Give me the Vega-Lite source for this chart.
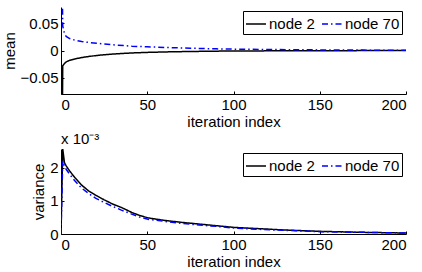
{
  "$schema": "https://vega.github.io/schema/vega-lite/v6.json",
  "background": "white",
  "padding": {"top": 7, "left": 2, "right": 10, "bottom": 0},
  "spacing": 3,
  "config": {
    "view": {"stroke": null},
    "font": "Liberation Sans",
    "axis": {
      "grid": false,
      "domainColor": "#000",
      "domainWidth": 1,
      "tickColor": "#000",
      "tickSize": -3,
      "labelFont": "Liberation Sans",
      "labelFontSize": 15,
      "labelColor": "#000",
      "titleFont": "Liberation Sans",
      "titleFontSize": 15,
      "titleFontWeight": "normal",
      "titleColor": "#000"
    },
    "axisX": {"labelPadding": 6, "titlePadding": 2},
    "axisY": {"labelPadding": 6, "titlePadding": 3},
    "legend": {
      "orient": "top-right",
      "offset": 4,
      "direction": "horizontal",
      "strokeColor": "#000",
      "fillColor": "white",
      "padding": 2,
      "symbolType": "stroke",
      "symbolSize": 400,
      "symbolStrokeWidth": 1.5,
      "labelFont": "Liberation Sans",
      "labelFontSize": 15,
      "labelColor": "#000",
      "labelOffset": 2,
      "columnPadding": 4,
      "title": null
    },
    "title": {"anchor": "start", "frame": "group", "fontSize": 15, "fontWeight": "normal", "font": "Liberation Sans", "color": "#000", "offset": 2}
  },
  "datasets": {
    "mean": [
      {"iter": 0, "node": "node 2", "value": -0.5},
      {"iter": 1, "node": "node 2", "value": -0.028},
      {"iter": 2, "node": "node 2", "value": -0.024},
      {"iter": 3, "node": "node 2", "value": -0.021},
      {"iter": 5, "node": "node 2", "value": -0.018},
      {"iter": 8, "node": "node 2", "value": -0.0155},
      {"iter": 12, "node": "node 2", "value": -0.013},
      {"iter": 16, "node": "node 2", "value": -0.011},
      {"iter": 22, "node": "node 2", "value": -0.0087},
      {"iter": 30, "node": "node 2", "value": -0.0065},
      {"iter": 41, "node": "node 2", "value": -0.0045},
      {"iter": 50, "node": "node 2", "value": -0.0035},
      {"iter": 61, "node": "node 2", "value": -0.0026},
      {"iter": 75, "node": "node 2", "value": -0.0018},
      {"iter": 90, "node": "node 2", "value": -0.0012},
      {"iter": 100, "node": "node 2", "value": -0.0009},
      {"iter": 125, "node": "node 2", "value": -0.0006},
      {"iter": 150, "node": "node 2", "value": -0.0004},
      {"iter": 175, "node": "node 2", "value": -0.0002},
      {"iter": 200, "node": "node 2", "value": -0.0001},
      {"iter": 0, "node": "node 70", "value": 0.3},
      {"iter": 1, "node": "node 70", "value": 0.045},
      {"iter": 2, "node": "node 70", "value": 0.031},
      {"iter": 3, "node": "node 70", "value": 0.026},
      {"iter": 5, "node": "node 70", "value": 0.022},
      {"iter": 8, "node": "node 70", "value": 0.019},
      {"iter": 12, "node": "node 70", "value": 0.0165},
      {"iter": 16, "node": "node 70", "value": 0.0148},
      {"iter": 22, "node": "node 70", "value": 0.013},
      {"iter": 30, "node": "node 70", "value": 0.0105},
      {"iter": 41, "node": "node 70", "value": 0.008},
      {"iter": 50, "node": "node 70", "value": 0.0068},
      {"iter": 61, "node": "node 70", "value": 0.0056},
      {"iter": 75, "node": "node 70", "value": 0.0042},
      {"iter": 90, "node": "node 70", "value": 0.003},
      {"iter": 100, "node": "node 70", "value": 0.0025},
      {"iter": 125, "node": "node 70", "value": 0.0017},
      {"iter": 150, "node": "node 70", "value": 0.0011},
      {"iter": 175, "node": "node 70", "value": 0.0007},
      {"iter": 200, "node": "node 70", "value": 0.0005}
    ],
    "variance": [
      {"iter": 0, "node": "node 2", "value": 0},
      {"iter": 1, "node": "node 2", "value": 0.00256},
      {"iter": 2, "node": "node 2", "value": 0.00215},
      {"iter": 3, "node": "node 2", "value": 0.00205},
      {"iter": 5, "node": "node 2", "value": 0.0019},
      {"iter": 8, "node": "node 2", "value": 0.0017},
      {"iter": 12, "node": "node 2", "value": 0.00147},
      {"iter": 16, "node": "node 2", "value": 0.0013},
      {"iter": 20, "node": "node 2", "value": 0.00117},
      {"iter": 25, "node": "node 2", "value": 0.00103},
      {"iter": 30, "node": "node 2", "value": 0.0009},
      {"iter": 35, "node": "node 2", "value": 0.0008},
      {"iter": 41, "node": "node 2", "value": 0.00065},
      {"iter": 46, "node": "node 2", "value": 0.00055},
      {"iter": 51, "node": "node 2", "value": 0.00048},
      {"iter": 60, "node": "node 2", "value": 0.00041},
      {"iter": 70, "node": "node 2", "value": 0.00035},
      {"iter": 80, "node": "node 2", "value": 0.0003},
      {"iter": 90, "node": "node 2", "value": 0.00025},
      {"iter": 100, "node": "node 2", "value": 0.0002},
      {"iter": 115, "node": "node 2", "value": 0.00016},
      {"iter": 130, "node": "node 2", "value": 0.00012},
      {"iter": 150, "node": "node 2", "value": 0.00008},
      {"iter": 175, "node": "node 2", "value": 0.00005},
      {"iter": 200, "node": "node 2", "value": 0.00003},
      {"iter": 0, "node": "node 70", "value": 0},
      {"iter": 1, "node": "node 70", "value": 0.0022},
      {"iter": 2, "node": "node 70", "value": 0.00205},
      {"iter": 3, "node": "node 70", "value": 0.00195},
      {"iter": 5, "node": "node 70", "value": 0.0018},
      {"iter": 8, "node": "node 70", "value": 0.0016},
      {"iter": 12, "node": "node 70", "value": 0.00138},
      {"iter": 16, "node": "node 70", "value": 0.00122},
      {"iter": 20, "node": "node 70", "value": 0.00108},
      {"iter": 25, "node": "node 70", "value": 0.00095},
      {"iter": 30, "node": "node 70", "value": 0.00083},
      {"iter": 35, "node": "node 70", "value": 0.00072},
      {"iter": 41, "node": "node 70", "value": 0.0006},
      {"iter": 46, "node": "node 70", "value": 0.0005},
      {"iter": 51, "node": "node 70", "value": 0.00044},
      {"iter": 60, "node": "node 70", "value": 0.00038},
      {"iter": 70, "node": "node 70", "value": 0.00032},
      {"iter": 80, "node": "node 70", "value": 0.00027},
      {"iter": 90, "node": "node 70", "value": 0.00023},
      {"iter": 100, "node": "node 70", "value": 0.00018},
      {"iter": 115, "node": "node 70", "value": 0.00014},
      {"iter": 130, "node": "node 70", "value": 0.00011},
      {"iter": 150, "node": "node 70", "value": 0.00007},
      {"iter": 175, "node": "node 70", "value": 0.00005},
      {"iter": 200, "node": "node 70", "value": 0.00003}
    ]
  },
  "resolve": {
    "scale": {"color": "independent", "strokeDash": "independent"},
    "legend": {"color": "independent", "strokeDash": "independent"}
  },
  "vconcat": [
    {
      "width": 345,
      "height": 87,
      "data": {"name": "mean"},
      "mark": {"type": "line", "clip": true, "strokeWidth": 1.5},
      "encoding": {
        "x": {"field": "iter", "type": "quantitative", "scale": {"domain": [0, 200], "nice": false}, "axis": {"values": [0, 50, 100, 150, 200], "title": "iteration index"}},
        "y": {"field": "value", "type": "quantitative", "scale": {"domain": [-0.08, 0.08], "nice": false}, "axis": {"values": [-0.05, 0, 0.05], "format": ".2~f", "title": "mean"}},
        "color": {"field": "node", "type": "nominal", "scale": {"domain": ["node 2", "node 70"], "range": ["#000000", "#0000ff"]}},
        "strokeDash": {"field": "node", "type": "nominal", "scale": {"domain": ["node 2", "node 70"], "range": [[1, 0], [6, 3, 1.5, 3]]}}
      }
    },
    {
      "width": 345,
      "height": 85,
      "title": {"text": "x 10⁻³"},
      "data": {"name": "variance"},
      "mark": {"type": "line", "clip": true, "strokeWidth": 1.5},
      "encoding": {
        "x": {"field": "iter", "type": "quantitative", "scale": {"domain": [0, 200], "nice": false}, "axis": {"values": [0, 50, 100, 150, 200], "title": "iteration index"}},
        "y": {"field": "value", "type": "quantitative", "scale": {"domain": [0, 0.00256], "nice": false}, "axis": {"values": [0, 0.001, 0.002], "labelExpr": "format(datum.value * 1000, '.0f')", "title": "variance"}},
        "color": {"field": "node", "type": "nominal", "scale": {"domain": ["node 2", "node 70"], "range": ["#000000", "#0000ff"]}},
        "strokeDash": {"field": "node", "type": "nominal", "scale": {"domain": ["node 2", "node 70"], "range": [[1, 0], [6, 3, 1.5, 3]]}}
      }
    }
  ]
}
